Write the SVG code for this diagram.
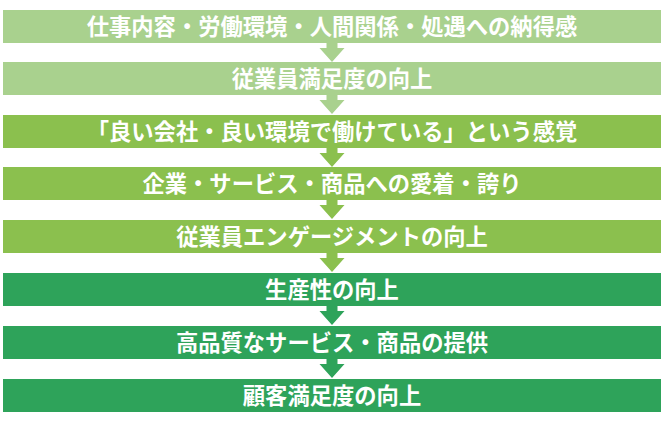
<svg xmlns="http://www.w3.org/2000/svg" width="670" height="426" viewBox="0 0 670 426">
<style>
text{font-family:"Noto Sans CJK JP","Noto Sans CJK SC",sans-serif;font-size:22.3px;font-weight:700;fill:#ffffff;text-anchor:middle}
.l{fill:#a9d18e}
.m{fill:#8bc04e}
.d{fill:#2ea35a}
</style>
<defs>
<path id="arr" d="M-5.5,0 H5.5 V6 H12.5 L0,20 L-12.5,6 H-5.5 Z"/>
</defs>
<rect width="670" height="426" fill="#ffffff"/>
<g id="connectors">
<use href="#arr" class="l" x="332" y="42"/>
<use href="#arr" class="l" x="332" y="94"/>
<use href="#arr" class="m" x="332" y="147"/>
<use href="#arr" class="m" x="332" y="199"/>
<use href="#arr" class="m" x="332" y="252"/>
<use href="#arr" class="d" x="332" y="305"/>
<use href="#arr" class="d" x="332" y="358"/>
</g>
<g id="n1"><rect class="l" x="3" y="10" width="658" height="33"/><text x="332" y="34.5">仕事内容・労働環境・人間関係・処遇への納得感</text></g>
<g id="n2"><rect class="l" x="3" y="62" width="658" height="33"/><text x="332" y="86.5">従業員満足度の向上</text></g>
<g id="n3"><rect class="m" x="3" y="115" width="658" height="33"/><text x="332" y="139.5">「良い会社・良い環境で働けている」という感覚</text></g>
<g id="n4"><rect class="m" x="3" y="167" width="658" height="33"/><text x="332" y="191.5">企業・サービス・商品への愛着・誇り</text></g>
<g id="n5"><rect class="m" x="3" y="220" width="658" height="33"/><text x="332" y="244.5">従業員エンゲージメントの向上</text></g>
<g id="n6"><rect class="d" x="3" y="273" width="658" height="33"/><text x="332" y="297.5">生産性の向上</text></g>
<g id="n7"><rect class="d" x="3" y="326" width="658" height="33"/><text x="332" y="350.5">高品質なサービス・商品の提供</text></g>
<g id="n8"><rect class="d" x="3" y="379" width="658" height="33"/><text x="332" y="403.5">顧客満足度の向上</text></g>
</svg>
